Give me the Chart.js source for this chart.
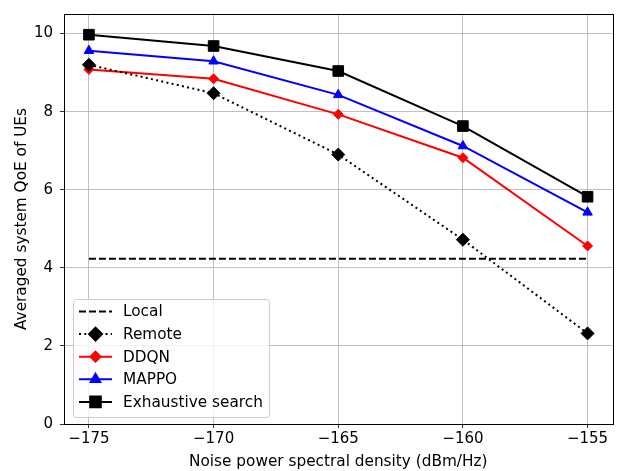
<!DOCTYPE html>
<html>
<head>
<meta charset="utf-8">
<script src="https://cdn.jsdelivr.net/npm/chart.js@4"></script>
<style>
	html, body { margin: 0; padding: 0; background: #fff; }
	#wrap { width: 621px; height: 471px; }
</style>
</head>
<body>
<div id="wrap"><canvas id="chart_qoe"></canvas></div>
<script>
//data
var noise_psd = [-175, -170, -165, -160, -155];
var qoe_local = [4.23, 4.23, 4.23, 4.23, 4.23];
var qoe_remote = [9.20, 8.47, 6.90, 4.72, 2.32];
var qoe_ddqn = [9.08, 8.84, 7.93, 6.82, 4.56];
var qoe_mappo = [9.56, 9.29, 8.43, 7.12, 5.42];
var qoe_exhaustive = [9.97, 9.68, 9.04, 7.63, 5.82];
var x_ticks = [-175, -170, -165, -160, -155];
var y_ticks = [0, 2, 4, 6, 8, 10];

var font_family = "'DejaVu Sans', sans-serif";

function to_points(values)
{
	return noise_psd.map(function(x, i){ return { x: x, y: values[i] }; });
}

function minus(v)
{
	return String(v).replace("-", "\u2212");
}

//ramen runt plotytan
var frame_plugin = {
	id: "frame",
	afterDraw: function(chart)
	{
		var a = chart.chartArea, ctx = chart.ctx;
		ctx.save();
		ctx.strokeStyle = "#000";
		ctx.lineWidth = 1;
		ctx.strokeRect(Math.round(a.left) + 0.5, Math.round(a.top) + 0.5, Math.round(a.right - a.left), Math.round(a.bottom - a.top));
		ctx.restore();
	}
};

//legend inne i plotytan, nere till vänster
var legend_plugin = {
	id: "inner_legend",
	afterDraw: function(chart)
	{
		var a = chart.chartArea, ctx = chart.ctx;
		var x0 = a.left + 9, y0 = a.bottom - 125, w = 196, h = 118;
		ctx.save();
		ctx.fillStyle = "rgba(255,255,255,0.8)";
		ctx.strokeStyle = "#cccccc";
		ctx.lineWidth = 1;
		ctx.beginPath();
		ctx.roundRect(x0 + 0.5, y0 + 0.5, w, h, 3);
		ctx.fill();
		ctx.stroke();
		chart.data.datasets.forEach(function(ds, i){
			var y = y0 + 12.5 + i * 22.6;
			ctx.strokeStyle = ds.borderColor;
			ctx.lineWidth = ds.borderWidth;
			ctx.setLineDash(ds.borderDash || []);
			ctx.beginPath();
			ctx.moveTo(x0 + 6, y);
			ctx.lineTo(x0 + 39, y);
			ctx.stroke();
			ctx.setLineDash([]);
			if(ds.pointRadius > 0)
			{
				ctx.fillStyle = ds.pointBackgroundColor;
				ctx.strokeStyle = ds.pointBorderColor;
				Chart.helpers.drawPoint(ctx, {
					pointStyle: ds.pointStyle,
					radius: ds.pointRadius,
					borderWidth: 1,
					rotation: 0
				}, x0 + 22.5, y);
			}
			ctx.fillStyle = "#000";
			ctx.font = "15.3px " + font_family;
			ctx.textBaseline = "middle";
			ctx.fillText(ds.label, x0 + 50, y + 1);
		});
		ctx.restore();
	}
};

function make_set(label, values, color, style, radius, dash)
{
	return {
		label: label,
		data: to_points(values),
		borderColor: color,
		backgroundColor: color,
		pointBackgroundColor: color,
		pointBorderColor: color,
		pointBorderWidth: 1,
		borderWidth: 2,
		borderDash: dash,
		pointStyle: style,
		pointRadius: radius,
		pointHoverRadius: radius,
		tension: 0
	};
}

var datasets = [
	make_set("Local", qoe_local, "#000000", false, 0, [7, 3]),
	make_set("Remote", qoe_remote, "#000000", "rectRot", 6.5, [2, 3.3]),
	make_set("DDQN", qoe_ddqn, "#ff0000", "rectRot", 5, []),
	make_set("MAPPO", qoe_mappo, "#0000ff", "triangle", 5.5, []),
	make_set("Exhaustive search", qoe_exhaustive, "#000000", "rect", 7.5, [])
];

new Chart(document.getElementById("chart_qoe"), {
	type: "line",
	data: { datasets: datasets },
	options: {
		responsive: true,
		maintainAspectRatio: false,
		animation: false,
		devicePixelRatio: 1,
		layout: { padding: { left: 0, top: 14, right: 5, bottom: 0 } },
		plugins: {
			legend: { display: false },
			tooltip: { enabled: false }
		},
		scales: {
			x: {
				type: "linear",
				min: -176,
				max: -154,
				afterBuildTicks: function(axis){
					axis.ticks = x_ticks.map(function(v){ return { value: v }; });
				},
				afterFit: function(axis){
					axis.height = 47;
					axis.paddingLeft = 0;
					axis.paddingRight = 0;
				},
				ticks: {
					color: "#000",
					font: { family: font_family, size: 15 },
					padding: 2,
					maxRotation: 0,
					callback: function(v){ return minus(v); }
				},
				grid: { color: "#b0b0b0", lineWidth: 0.8, tickLength: 4, tickColor: "#000" },
				border: { color: "#000" },
				title: {
					display: true,
					text: "Noise power spectral density (dBm/Hz)",
					color: "#000",
					font: { family: font_family, size: 15.3 },
					padding: { top: 0, bottom: 0 }
				}
			},
			y: {
				type: "linear",
				min: 0,
				max: 10.5,
				afterBuildTicks: function(axis){
					axis.ticks = y_ticks.map(function(v){ return { value: v }; });
				},
				afterFit: function(axis){
					axis.width = 64;
					axis.paddingTop = 0;
					axis.paddingBottom = 0;
				},
				ticks: {
					color: "#000",
					font: { family: font_family, size: 15 },
					padding: 7
				},
				grid: { color: "#b0b0b0", lineWidth: 0.8, tickLength: 4, tickColor: "#000" },
				border: { color: "#000" },
				title: {
					display: true,
					text: "Averaged system QoE of UEs",
					color: "#000",
					font: { family: font_family, size: 15.3 },
					padding: { top: 13, bottom: 0 }
				}
			}
		}
	},
	plugins: [frame_plugin, legend_plugin]
});
</script>
</body>
</html>
